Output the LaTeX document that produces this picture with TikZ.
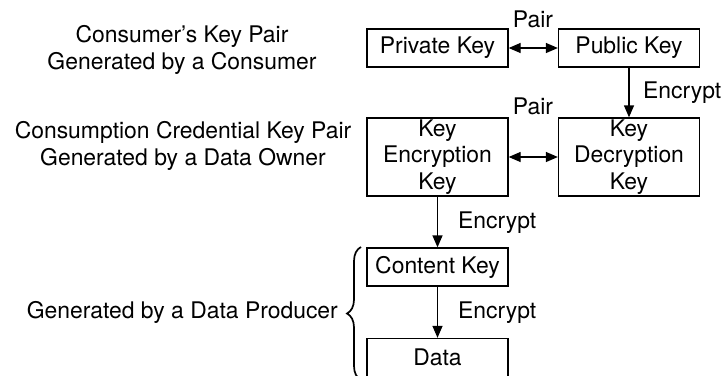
\documentclass[tikz,border=0pt]{standalone}
\usepackage{fontspec}
\setmainfont{TeX Gyre Heros}
\usetikzlibrary{arrows.meta,decorations.pathreplacing}
\begin{document}
\begin{tikzpicture}[x=1pt,y=-1pt,
  every node/.style={font=\fontsize{22.9}{26.5}\selectfont},
  keybox/.style={draw,line width=1.3pt,minimum width=141pt,minimum height=38pt,inner sep=0pt,align=center},
  tallbox/.style={keybox,minimum height=78pt},
  link/.style={line width=1.3pt,-{Triangle[length=12pt,width=10pt]}},
  pairlink/.style={line width=1.3pt,{Triangle[length=12pt,width=10pt]}-{Triangle[length=12pt,width=10pt]}},
  lbl/.style={inner sep=0pt,align=center}]
\useasboundingbox (0,0) rectangle (722,375);

% key boxes
\node[keybox] (priv) at (437.5,48) {Private Key};
\node[keybox] (pub) at (629,48) {Public Key};
\node[tallbox] (kek) at (437.5,157) {Key\\Encryption\\Key};
\node[tallbox] (kdk) at (629,157) {Key\\Decryption\\Key};
\node[keybox] (ck) at (437.5,267) {Content Key};
\node[keybox] (data) at (437.5,357.5) {Data};

% connectors
\draw[pairlink] (priv.east) -- (pub.west);
\draw[link] (pub.south) -- (kdk.north);
\draw[pairlink] (kek.east) -- (kdk.west);
\draw[link] (kek.south) -- (ck.north);
\draw[link] (ck.south) -- (data.north);

% connector labels
\node[lbl] (pair1) at (533,19) {Pair};
\node[lbl,anchor=west] (enc1) at (643,93) {Encrypt};
\node[lbl] (pair2) at (533,106) {Pair};
\node[lbl,anchor=west] (enc2) at (458,223) {Encrypt};
\node[lbl,anchor=west] (enc3) at (458,313) {Encrypt};

% group captions
\node[lbl] (cap1) at (182,50) {Consumer’s Key Pair\\Generated by a Consumer};
\node[lbl] (cap2) at (183,146) {Consumption Credential Key Pair\\Generated by a Data Owner};
\node[lbl,anchor=east] (cap3) at (338,312) {Generated by a Data Producer};

% brace around the producer's items
\coordinate (bb) at (361,380);
\coordinate (bt) at (361,247);
\draw[line width=1.7pt,decorate,decoration={brace,amplitude=14pt}] (bb) -- (bt);
\end{tikzpicture}
\end{document}
